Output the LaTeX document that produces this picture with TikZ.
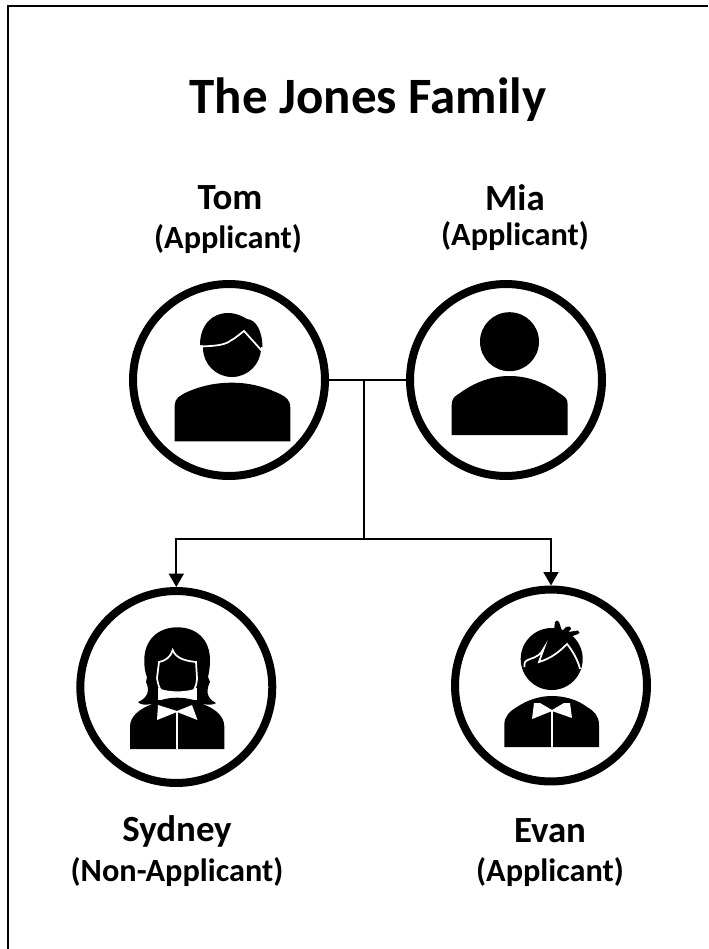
\documentclass[tikz,border=0pt]{standalone}
\usepackage{tikz}
\usepackage{fontspec}
\setmainfont{Carlito}
\usetikzlibrary{arrows.meta}
\tikzset{
  main/.style = {draw, circle, line width=0.16cm, minimum size=3.84cm, inner sep=0pt},
  title/.style = {font=\bfseries\fontsize{29}{34}\selectfont},
  who/.style = {font=\bfseries\fontsize{21}{25}\selectfont},
  role/.style = {font=\bfseries\fontsize{18.4}{22}\selectfont},
  link/.style = {line width=0.04cm},
  cut/.style = {draw=white, line width=0.035cm},
  tip/.style = {-{Triangle[length=0.27cm,width=0.3cm]}},
}
\begin{document}
\begin{tikzpicture}[x=0.02cm,y=-0.02cm]
  \useasboundingbox (0,0) rectangle (708,949);
  \draw[line width=0.045cm] (8,949) -- (8,6) -- (708,6);

  \node[title](heading) at (368,100){The Jones Family};
  \node[who](tomname) at (230,198){Tom};
  \node[role](tomrole) at (228,239){(Applicant)};
  \node[who](mianame) at (515,198){Mia};
  \node[role](miarole) at (515,236){(Applicant)};
  \node[who](sydneyname) at (177,831){Sydney};
  \node[role](sydneyrole) at (177,872){(Non-Applicant)};
  \node[who](evanname) at (550,831){Evan};
  \node[role](evanrole) at (550,872){(Applicant)};

  \node[main](tom) at (229,380){};
  \node[main](mia) at (506,380){};
  \node[main](sydney) at (176.3,687){};
  \node[main](evan) at (551,685.5){};

  \coordinate (mid) at (363.5,380);
  \coordinate (fork) at (363.5,539);
  \draw[link] (tom) -- (mia);
  \draw[link] (mid) -- (fork);
  \draw[link,tip] (fork) -| (sydney);
  \draw[link,tip] (fork) -| (evan);

  % Tom
  \fill (232,348) circle (29);
  \fill (200,345) .. controls (200,325) and (212,313) .. (228,313)
    .. controls (236,313) and (242,316) .. (247,319)
    .. controls (256,320) and (262,330) .. (262.5,347) -- cycle;
  \draw[cut] (201,346.5) .. controls (215,346) and (225,345) .. (230,341)
    .. controls (236,338) and (241,333) .. (244,331)
    -- (262,351);
  \fill (174.7,441.3) -- (174.7,405) .. controls (175,398) and (180,396) .. (185,393)
    .. controls (200,386) and (215,382.7) .. (232,382.7)
    .. controls (250,382.7) and (265,387) .. (280,394)
    .. controls (286,397) and (290.3,400) .. (290.3,408) -- (290.3,441.3) -- cycle;

  % Mia
  \fill (509.5,341.7) circle (29.5);
  \fill (451.7,435) -- (451.7,405) .. controls (452,398) and (454,397) .. (460,393)
    .. controls (475,382) and (492,376) .. (509.5,376)
    .. controls (527,376) and (544,382) .. (559,393)
    .. controls (565,397) and (567.7,398) .. (567.7,405) -- (567.7,435) -- cycle;

  % Sydney
  \fill (144.3,660) .. controls (144.3,640) and (158,627.3) .. (177.3,627.3)
    .. controls (197,627.3) and (210,640) .. (210,660)
    .. controls (210,668) and (209,672) .. (208,677)
    -- (210,682) .. controls (206,690) and (206,698) .. (216,703)
    .. controls (214,705) and (208,705) .. (203,704)
    -- (152,704) .. controls (146,705) and (140,705) .. (138,702)
    .. controls (148,698) and (150,690) .. (146,682)
    -- (147,677) .. controls (145,672) and (144.3,668) .. (144.3,660) -- cycle;
  \fill[white] (158,688) rectangle (197,700);
  \filldraw[cut,fill=black] (172.7,650) .. controls (171,657) and (165,661) .. (159,662)
    -- (157,678) .. controls (158,684) and (159,688) .. (161,690)
    .. controls (170,693) and (185,693) .. (194,690)
    .. controls (196,686) and (197,682) .. (197,678)
    -- (196,662) .. controls (187,661) and (176,659) .. (172.7,650) -- cycle;
  \fill (130,749) -- (130,726.7) .. controls (130,716) and (140,709) .. (150,705)
    .. controls (158,700) and (168,697.7) .. (177.3,697.7)
    .. controls (187,697.7) and (197,700) .. (205,705)
    .. controls (215,709) and (224.3,716) .. (224.3,726.7) -- (224.3,749) -- cycle;
  \fill[white] (158,705) -- (177,711) -- (192,705) -- (197.5,720) -- (177,712) -- (157,720) -- cycle;
  \draw[white,line width=0.03cm] (177,712) -- (177,749);

  % Evan
  \fill (551.7,659) circle (31);
  \fill (554,630) -- (555,622) .. controls (556,620) and (558,620) .. (559,622) -- (562,631)
    -- (566,627) .. controls (570,626) and (572,627) .. (571,629) -- (568,632)
    -- (578,630.5) .. controls (580,632) and (580,634) .. (578,634) -- (570,637) -- cycle;
  \draw[cut] (524.5,667) .. controls (524,662) and (525,661) .. (530,659)
    .. controls (537,657) and (541,654) .. (544,648)
    -- (539,662) .. controls (552,658) and (560,651) .. (567,644)
    .. controls (572,650) and (578,660) .. (580,669);
  \fill (504.3,747) -- (504.3,725) .. controls (504.3,716) and (510,711) .. (517,707)
    .. controls (527,700) and (540,696) .. (551.7,696)
    .. controls (565,696) and (578,700) .. (587,707)
    .. controls (594,711) and (599,716) .. (599,725) -- (599,747) -- cycle;
  \fill[white] (534,703) -- (540,703) -- (552,710) -- (564,703) -- (570,703) -- (572,718) -- (552,711) -- (532,719) -- cycle;
  \draw[white,line width=0.03cm] (552,711) -- (552,747);
\end{tikzpicture}
\end{document}
